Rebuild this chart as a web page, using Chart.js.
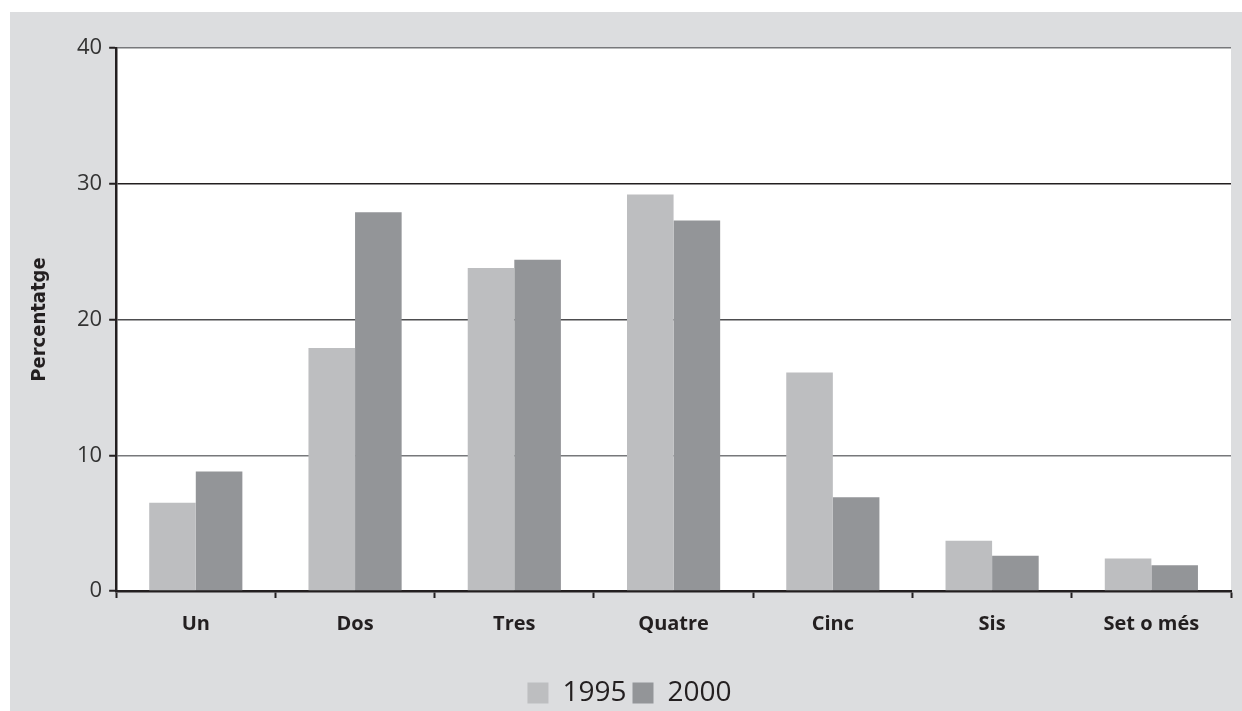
<!DOCTYPE html>
<html>
<head>
<meta charset="utf-8">
<script src="https://cdn.jsdelivr.net/npm/chart.js@4"></script>
<style>
  body { margin: 0; background: #fff; }
  #panel { position: absolute; left: 10px; top: 12px; width: 1232px; height: 699px; background: #dcdddf; }
</style>
</head>
<body>
<div id="panel"><canvas id="chart__households" width="1232" height="699"></canvas></div>
<script>
(function () {
    const categories = ['Un', 'Dos', 'Tres', 'Quatre', 'Cinc', 'Sis', 'Set o més']
    const values1995 = [6.5, 17.9, 23.8, 29.2, 16.1, 3.7, 2.4]
    const values2000 = [8.8, 27.9, 24.4, 27.3, 6.9, 2.6, 1.9]
    const yTicks = [0, 10, 20, 30, 40]

    // grid colour per tick, the reference has lines of different darkness
    const gridColours = { 0: '#231f20', 10: '#77787b', 20: '#4d4d4f', 30: '#231f20', 40: '#77787b' }

    const whiteArea = {
        id: 'whiteArea',
        beforeDraw(chart) {
            const { ctx, chartArea } = chart
            ctx.save()
            ctx.fillStyle = '#ffffff'
            ctx.fillRect(chartArea.left, chartArea.top, chartArea.right - chartArea.left, chartArea.bottom - chartArea.top)
            ctx.restore()
        }
    }

    new Chart(
        document.getElementById('chart__households'),
        {
            type: 'bar',
            data: {
                labels: categories,
                datasets: [
                    { label: '1995', data: values1995, backgroundColor: '#bdbec0' },
                    { label: '2000', data: values2000, backgroundColor: '#939598' }
                ]
            },
            options: {
                responsive: false,
                animation: false,
                categoryPercentage: 0.585,
                barPercentage: 1,
                layout: { padding: { top: 36, left: 18, right: 11, bottom: -6 } },
                plugins: {
                    tooltip: { enabled: false },
                    legend: {
                        position: 'bottom',
                        labels: {
                            boxWidth: 21,
                            boxHeight: 21,
                            padding: 6,
                            color: '#231f20',
                            font: { family: 'Open Sans', size: 28 }
                        }
                    }
                },
                scales: {
                    x: {
                        border: { color: '#231f20', width: 2.5 },
                        grid: { drawOnChartArea: false, tickLength: 7, tickColor: '#231f20', tickWidth: 2 },
                        ticks: {
                            padding: 14,
                            color: '#231f20',
                            font: { family: 'Open Sans', size: 20, weight: 'bold' }
                        },
                        afterFit(scale) { scale.height = 82 }
                    },
                    y: {
                        min: 0,
                        max: 40,
                        afterBuildTicks(scale) { scale.ticks = yTicks.map(v => ({ value: v })) },
                        border: { color: '#231f20', width: 2.5 },
                        grid: {
                            color: ctx => gridColours[ctx.tick.value] || '#77787b',
                            lineWidth: 1.5,
                            tickLength: 7,
                            tickColor: '#231f20',
                            tickWidth: 2
                        },
                        ticks: {
                            padding: 7,
                            color: '#333333',
                            font: { family: 'Open Sans', size: 22 }
                        },
                        title: {
                            display: true,
                            text: 'Percentatge',
                            color: '#231f20',
                            padding: { top: 0, bottom: 18 },
                            font: { family: '"Liberation Sans Narrow", "DejaVu Sans Condensed", Roboto, sans-serif', size: 20, weight: 'bold' }
                        }
                    }
                }
            },
            plugins: [whiteArea]
        }
    );
})();
</script>
</body>
</html>
